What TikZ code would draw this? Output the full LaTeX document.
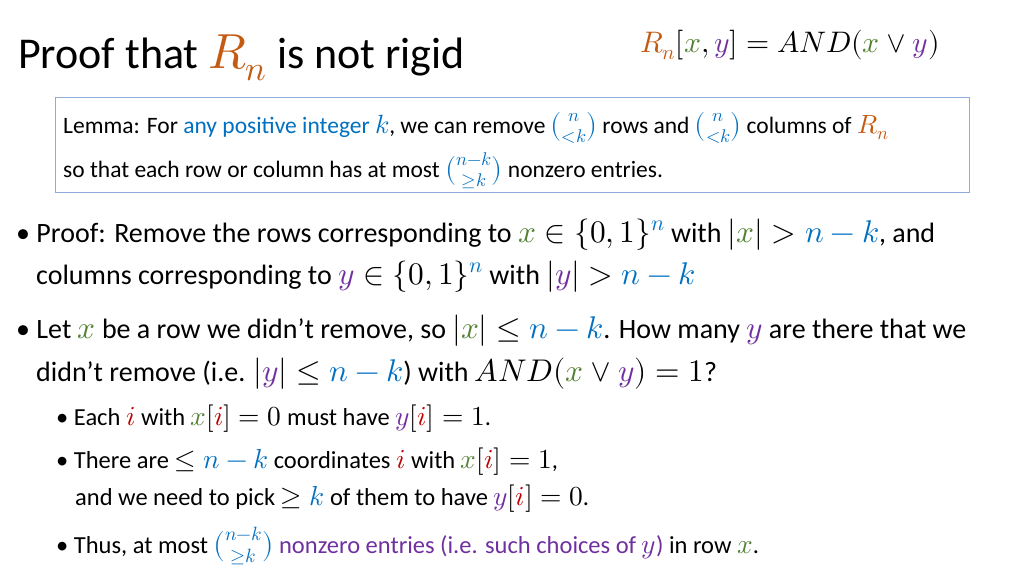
\documentclass[tikz,border=0pt]{standalone}
\usepackage{amsmath}
\usepackage{fontspec}
\usepackage{unicode-math}
\setmainfont{Carlito}
\setmathfont{Latin Modern Math}[Scale=1.12]
\definecolor{cR}{HTML}{C55A11}
\definecolor{cx}{HTML}{548235}
\definecolor{cy}{HTML}{7030A0}
\definecolor{cb}{HTML}{0070C0}
\definecolor{ci}{HTML}{C00000}
\definecolor{bx}{HTML}{8FAADC}
\newcommand{\Rn}{\textcolor{cR}{R_n}}
\newcommand{\vx}{\textcolor{cx}{x}}
\newcommand{\vy}{\textcolor{cy}{y}}
\newcommand{\vi}{\textcolor{ci}{i}}
\newcommand{\nk}{\textcolor{cb}{n-k}}
\newcommand{\kk}{\textcolor{cb}{k}}
\newcommand{\bnk}{\textcolor{cb}{\binom{n-k}{\geq k}}}
\begin{document}
\begin{tikzpicture}[x=1pt,y=-1pt,
  txt/.style={anchor=base west,inner sep=0pt},
  big/.style={txt,font=\fontsize{28}{32}\selectfont},
  mid/.style={txt,font=\fontsize{24.5}{28}\selectfont},
  sm/.style={txt,font=\fontsize{23.5}{27}\selectfont}]
\useasboundingbox[fill=white] (0,0) rectangle (1024,576);
\node[txt,font=\fontsize{44}{50}\selectfont] (title) at (18,68) {Proof that $\Rn$ is not rigid};
\node[txt,font=\fontsize{26.5}{30}\selectfont] (def) at (640,52) {$\Rn[\vx,\vy]=AND(\vx\vee\vy)$};
\node[draw=bx,line width=0.8pt,minimum width=914pt,minimum height=95pt,anchor=north west] (box) at (55,97) {};
\node[sm] (l1) at (63,133) {Lemma: For \textcolor{cb}{any positive integer $k$}, we can remove $\textcolor{cb}{\binom{n}{<k}}$ rows and $\textcolor{cb}{\binom{n}{<k}}$ columns of $\Rn$};
\node[sm] (l2) at (63,177) {so that each row or column has at most $\bnk$ nonzero entries.};
\node[big] (p1) at (16,242) {\textbullet\ Proof: Remove the rows corresponding to $\vx\in\{0,1\}^{\textcolor{cb}{n}}$ with $|\vx|>\nk$, and};
\node[big] (p2) at (36,284) {columns corresponding to $\vy\in\{0,1\}^{\textcolor{cb}{n}}$ with $|\vy|>\nk$};
\node[big] (q1) at (16,338) {\textbullet\ Let $\vx$ be a row we didn’t remove, so $|\vx|\leq\nk$. How many $\vy$ are there that we};
\node[big] (q2) at (36,381) {didn’t remove (i.e. $|\vy|\leq\nk$) with $AND(\vx\vee\vy)=1$?};
\node[mid] (s1) at (56,425) {\textbullet\ Each $\vi$ with $\vx[\vi]=0$ must have $\vy[\vi]=1$.};
\node[mid] (s2) at (56,468) {\textbullet\ There are $\leq\nk$ coordinates $\vi$ with $\vx[\vi]=1$,};
\node[mid] (s3) at (75,505) {and we need to pick $\geq\kk$ of them to have $\vy[\vi]=0$.};
\node[mid] (s4) at (56,553) {\textbullet\ Thus, at most $\bnk$ \textcolor{cy}{nonzero entries (i.e. such choices of $y$)} in row $\vx$.};
\end{tikzpicture}
\end{document}
